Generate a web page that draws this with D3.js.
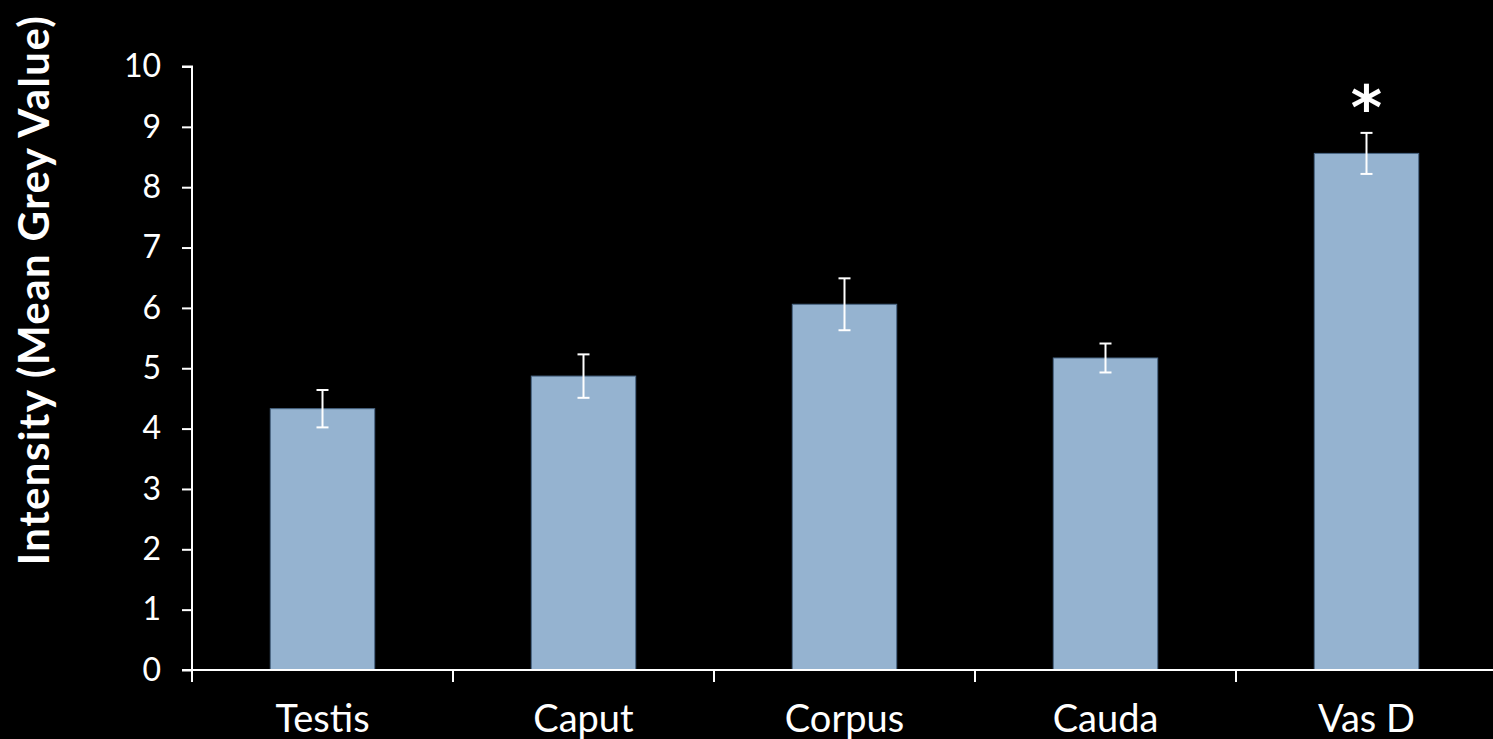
<!DOCTYPE html>
<html>
<head>
<meta charset="utf-8">
<script src="https://cdn.jsdelivr.net/npm/d3@7"></script>
<style>
html,body{margin:0;padding:0;background:#000;}
svg{display:block;}
</style>
</head>
<body>
<svg id="chart" width="1493" height="739"></svg>
<script>
const categories = ["Testis", "Caput", "Corpus", "Cauda", "Vas D"];
const means = [4.33, 4.87, 6.06, 5.17, 8.56];
const errors = [0.31, 0.36, 0.43, 0.24, 0.34];
const significant = [false, false, false, false, true];
const yTicks = [0,1,2,3,4,5,6,7,8,9,10];
const yTitle = "Intensity (Mean Grey Value)";

(function () {
const svg = d3.select("#chart");
const W = 1493, H = 739;
svg.append("rect").attr("width", W).attr("height", H).attr("fill", "#000");

const mLeft = 192, mRight = 1497, mTop = 66.5, mBottom = 670;
const font = "Lato, 'Open Sans', sans-serif";

const x = d3.scaleBand().domain(categories).range([mLeft, mRight]).paddingInner(0.6).paddingOuter(0.3);
const y = d3.scaleLinear().domain([0, 10]).range([mBottom, mTop]);

// bars
svg.append("g").selectAll("rect").data(categories).join("rect")
  .attr("x", d => x(d))
  .attr("y", (d, i) => y(means[i]))
  .attr("width", x.bandwidth())
  .attr("height", (d, i) => y(0) - y(means[i]))
  .attr("fill", "#95B3D0")
  .attr("stroke", "#4A6785")
  .attr("stroke-width", 1);

// error bars
const eb = svg.append("g").attr("stroke", "#fff").attr("stroke-width", 2);
categories.forEach((c, i) => {
  const cx = x(c) + x.bandwidth() / 2;
  const y1 = y(means[i] + errors[i]), y2 = y(means[i] - errors[i]);
  eb.append("line").attr("x1", cx).attr("x2", cx).attr("y1", y1).attr("y2", y2);
  eb.append("line").attr("x1", cx - 6).attr("x2", cx + 6).attr("y1", y1).attr("y2", y1);
  eb.append("line").attr("x1", cx - 6).attr("x2", cx + 6).attr("y1", y2).attr("y2", y2);
  if (significant[i]) {
    svg.append("text").attr("x", cx).attr("y", y1 - 4)
      .attr("text-anchor", "middle")
      .attr("fill", "#fff")
      .attr("font-family", "'DejaVu Sans', sans-serif")
      .attr("font-weight", "bold")
      .attr("font-size", 60)
      .text("*");
  }
});

// y axis
const yAxis = svg.append("g").attr("transform", `translate(${mLeft},0)`)
  .call(d3.axisLeft(y).tickValues(yTicks).tickSize(10).tickPadding(21).tickFormat(d3.format("d")));
yAxis.selectAll("path,line").attr("stroke", "#fff").attr("stroke-width", 2);
yAxis.select(".domain").attr("d", `M-10,${mTop}H0V${mBottom}`);
yAxis.selectAll("text").attr("fill", "#fff").attr("font-family", font).attr("font-size", 32);

// x axis with ticks at band boundaries
const bounds = d3.range(categories.length + 1).map(i => mLeft + i * x.step());
const xg = svg.append("g");
xg.append("line").attr("x1", mLeft - 10).attr("x2", W).attr("y1", mBottom).attr("y2", mBottom)
  .attr("stroke", "#fff").attr("stroke-width", 2);
xg.selectAll("line.t").data(bounds).join("line").attr("class", "t")
  .attr("x1", d => d).attr("x2", d => d).attr("y1", mBottom).attr("y2", mBottom + 12)
  .attr("stroke", "#fff").attr("stroke-width", 2);
xg.selectAll("text").data(categories).join("text")
  .attr("x", d => x(d) + x.bandwidth() / 2)
  .attr("y", 732)
  .attr("text-anchor", "middle")
  .attr("fill", "#fff")
  .attr("font-family", font)
  .attr("font-size", 38)
  .text(d => d);

// y title
svg.append("text")
  .attr("transform", `translate(49,290) rotate(-90)`)
  .attr("text-anchor", "middle")
  .attr("fill", "#fff")
  .attr("font-family", font)
  .attr("font-weight", "bold")
  .attr("font-size", 42)
  .attr("letter-spacing", 1.4)
  .text(yTitle);
})();
</script>
</body>
</html>
